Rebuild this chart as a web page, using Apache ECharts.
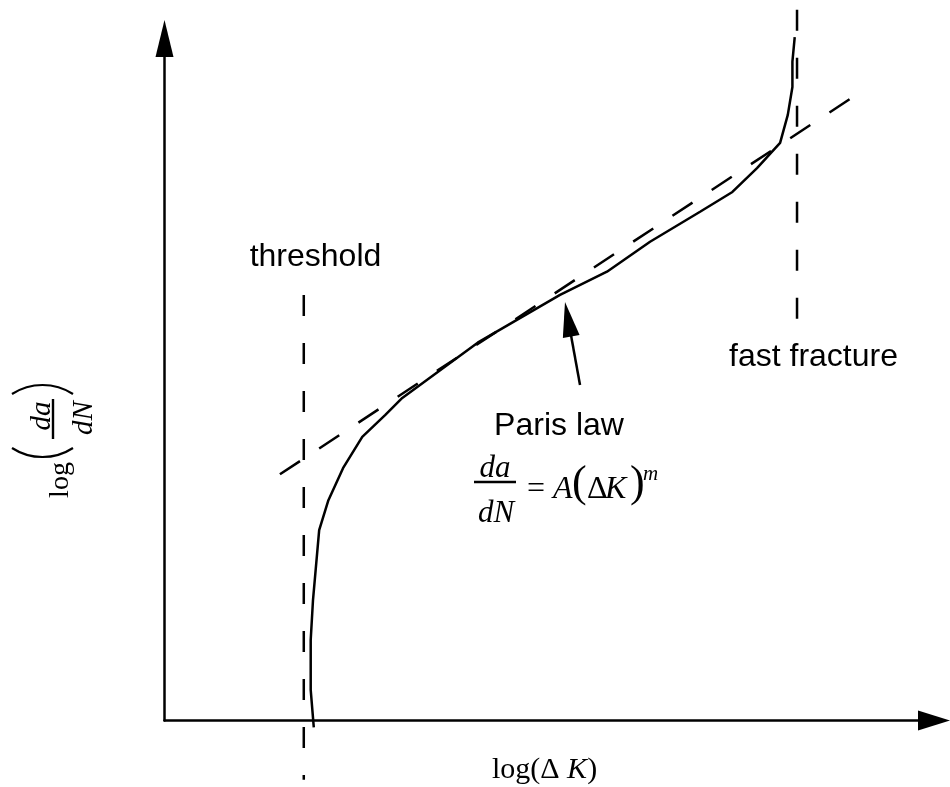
<!DOCTYPE html>
<html>
<head>
<meta charset="utf-8">
<script src="https://cdn.jsdelivr.net/npm/echarts@6/dist/echarts.min.js"></script>
<style>
html,body{margin:0;padding:0;background:#fff;}
#chart{width:950px;height:787px;}
</style>
</head>
<body>
<div id="chart"></div>
<script>
// Schematic fatigue crack growth curve: log(da/dN) vs log(ΔK), arbitrary units (0..100)
const curveX = [19.4, 19.0, 19.0, 19.3, 20.1, 21.3, 23.2, 25.7, 28.7, 30.9, 40.7, 51.4, 57.5, 63.1, 69.6, 73.8, 77.0, 80.0, 81.0, 81.6, 81.6, 81.9];
const curveY = [-1.0, 4.5, 11.8, 17.7, 27.9, 32.3, 37.0, 41.6, 44.8, 47.3, 55.4, 62.4, 65.8, 70.2, 74.6, 77.5, 81.0, 84.7, 88.8, 92.9, 96.6, 100.2];
const parisLineX = [15.0, 89.7];
const parisLineY = [36.1, 91.6];
const thresholdX = [18.1, 18.1];
const thresholdY = [62.4, -8.7];
const fractureX = [82.2, 82.2];
const fractureY = [58.9, 105.7];
const arrowX = [54.0, 52.45];
const arrowY = [49.2, 58.84];

const txtThreshold = 'threshold';
const txtParis = 'Paris law';
const txtFracture = 'fast fracture';

function pairs(xs, ys) { return xs.map((x, i) => [x, ys[i]]); }

const SANS = '"Liberation Sans", Arial, sans-serif';
const SERIF = '"Liberation Serif", "Times New Roman", serif';

function txt(x, y, text, font, align, extra) {
  return Object.assign({
    type: 'text', x: x, y: y, silent: true,
    style: {
      text: text, font: font, fill: '#000',
      align: align || 'center', verticalAlign: 'middle',
      textAlign: align || 'center', textVerticalAlign: 'middle'
    }
  }, extra || {});
}
function arcEl(cx, cy, r, a0, a1, w) {
  return { type: 'arc', silent: true, shape: { cx: cx, cy: cy, r: r, startAngle: a0, endAngle: a1, clockwise: true },
    style: { stroke: '#000', fill: null, lineWidth: w } };
}

const chart = echarts.init(document.getElementById('chart'), null, {renderer: 'canvas'});

const PA = 0.576;
const option = {
  animation: false,
  backgroundColor: '#fff',
  grid: { left: 164.5, right: 16, top: 38.5, bottom: 66.5, containLabel: false, outerBoundsMode: 'none' },
  xAxis: {
    type: 'value', min: 0, max: 100,
    axisLine: { show: true, onZero: false, symbol: ['none', 'triangle'], symbolSize: [20, 32],
      lineStyle: { color: '#000', width: 2.5 } },
    axisTick: { show: false }, axisLabel: { show: false }, splitLine: { show: false }
  },
  yAxis: {
    type: 'value', min: 0, max: 100,
    axisLine: { show: true, onZero: false, symbol: ['none', 'triangle'], symbolSize: [18, 37],
      lineStyle: { color: '#000', width: 2.5 } },
    axisTick: { show: false }, axisLabel: { show: false }, splitLine: { show: false }
  },
  series: [
    {
      type: 'line', name: 'crack growth', data: pairs(curveX, curveY),
      showSymbol: false, symbol: 'none', clip: false, silent: true, smooth: false,
      lineStyle: { color: '#000', width: 2.5 },
      markLine: {
        silent: true, animation: false,
        symbol: ['none', 'triangle'], symbolSize: [17, 35],
        label: { show: false },
        lineStyle: { color: '#000', width: 2.5, type: 'solid' },
        data: [[{ coord: [arrowX[0], arrowY[0]] }, { coord: [arrowX[1], arrowY[1]] }]]
      }
    },
    {
      type: 'line', name: 'Paris law', data: pairs(parisLineX, parisLineY),
      showSymbol: false, symbol: 'none', clip: false, silent: true,
      lineStyle: { color: '#000', width: 2.5, type: [24, 23] }
    },
    {
      type: 'line', name: 'threshold', data: pairs(thresholdX, thresholdY),
      showSymbol: false, symbol: 'none', clip: false, silent: true,
      lineStyle: { color: '#000', width: 2.5, type: [21, 27] }
    },
    {
      type: 'line', name: 'fast fracture', data: pairs(fractureX, fractureY),
      showSymbol: false, symbol: 'none', clip: false, silent: true,
      lineStyle: { color: '#000', width: 2.5, type: [21, 27] }
    }
  ],
  graphic: [
    txt(315.5, 257.5, txtThreshold, '32px ' + SANS),
    txt(559, 426.5, txtParis, '32px ' + SANS),
    txt(813.5, 357.5, txtFracture, '32px ' + SANS),
    // formula da/dN = A(ΔK)^m
    txt(495, 469, 'da', 'italic 31px ' + SERIF),
    { type: 'line', silent: true, shape: { x1: 474, y1: 482, x2: 516, y2: 482 }, style: { stroke: '#000', lineWidth: 2.6 } },
    txt(496, 514, 'dN', 'italic 31px ' + SERIF),
    txt(527, 490, '=', '32px ' + SERIF, 'left'),
    txt(553, 490, 'A', 'italic 32px ' + SERIF, 'left'),
    txt(572, 484, '(', '44px ' + SERIF, 'left'),
    txt(587, 490, 'Δ', '32px ' + SERIF, 'left'),
    txt(605, 490, 'K', 'italic 32px ' + SERIF, 'left'),
    txt(630, 484, ')', '44px ' + SERIF, 'left'),
    txt(643, 474.5, 'm', 'italic 21px ' + SERIF, 'left'),
    // x axis title log(ΔK)
    {
      type: 'text', x: 492, y: 770, silent: true,
      style: {
        text: '{r|log(Δ }{i|K}{r|)}', fill: '#000',
        align: 'left', verticalAlign: 'middle', textAlign: 'left', textVerticalAlign: 'middle',
        rich: {
          r: { font: '30px ' + SERIF, fill: '#000' },
          i: { font: 'italic 30px ' + SERIF, fill: '#000' }
        }
      }
    },
    // y axis title log(da/dN), rotated to read bottom-to-top
    {
      type: 'group', x: 68, y: 480, rotation: Math.PI / 2, silent: true,
      children: [
        txt(0, -7.5, 'log', '28px ' + SERIF),
        arcEl(79, -25.5, 56, Math.PI - PA, Math.PI + PA, 2.2),
        txt(64, -25.5, 'da', 'italic 29px ' + SERIF),
        { type: 'line', silent: true, shape: { x1: 41, y1: -15, x2: 81, y2: -15 }, style: { stroke: '#000', lineWidth: 2.4 } },
        txt(62, 16.5, 'dN', 'italic 29px ' + SERIF),
        arcEl(39, -25.5, 56, -PA, PA, 2.2)
      ]
    }
  ]
};
chart.setOption(option);
</script>
</body>
</html>
